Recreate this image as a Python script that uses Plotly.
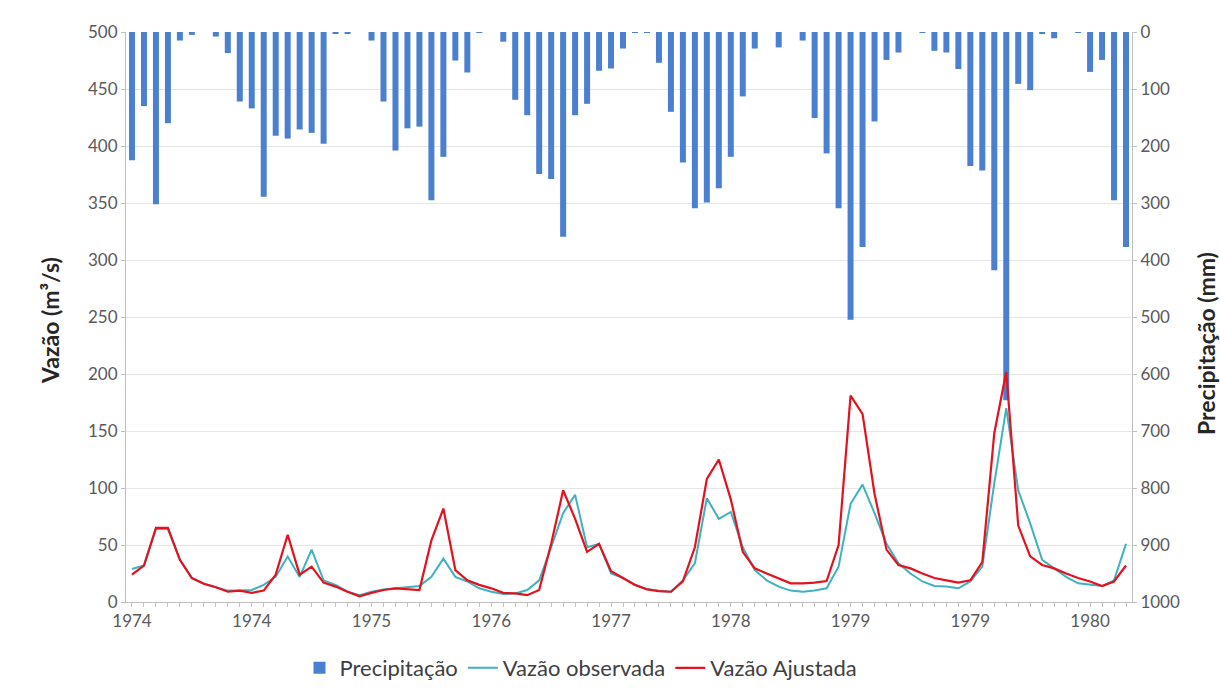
import plotly.graph_objects as go

# Monthly series, Jan 1974 - Dec 1980
meses = [f"{ano}-{m:02d}" for ano in range(1974, 1981) for m in range(1, 13)]

precipitacao = [
    225, 130, 302, 160, 15, 5, 0, 8, 37, 122, 134, 289,
    182, 187, 171, 177, 196, 2, 2, 0, 15, 122, 208, 169,
    166, 295, 219, 50, 71, 1, 0, 17, 119, 146, 249, 258,
    359, 146, 126, 68, 64, 29, 1, 1, 54, 140, 229, 309,
    299, 274, 219, 113, 29, 0, 27, 0, 15, 151, 213, 309,
    505, 377, 157, 49, 36, 0, 1, 33, 36, 65, 235, 243,
    418, 646, 91, 102, 2, 11, 0, 1, 70, 49, 295, 377,
]

vazao_observada = [
    29, 32, 64, 64, 37, 21, 16, 13, 10, 10, 10.5, 15,
    22, 40, 22, 46, 19, 15, 9, 6, 9, 11, 12, 13.5,
    14, 22, 38, 22, 18, 12, 9, 7, 7.5, 10.5, 19, 48,
    78, 94, 48, 51, 25, 21, 15, 11.5, 9.6, 9.1, 19, 34,
    91, 73, 79, 48, 28, 19, 13.5, 10, 9, 10, 12, 31,
    86, 103, 78, 51, 34, 25, 18, 14, 13.5, 12, 18, 31,
    104, 170, 98, 69, 37, 29.5, 22, 16.4, 15, 14, 19, 51,
]

vazao_ajustada = [
    24, 32, 65, 65, 37, 21, 16, 13, 9, 10, 8, 10,
    24, 59, 24, 31, 17, 13.5, 9, 5, 8, 10.5, 12, 11,
    10.5, 54, 82, 28, 19, 15, 12, 8, 7.6, 6, 10.5, 51,
    98, 73, 44, 51, 27, 21, 15, 11, 9.6, 9, 18, 48,
    108, 125, 90, 44, 29.5, 25, 21, 16.4, 16.4, 17, 18.4, 50,
    181, 165, 95, 46, 32.5, 29.5, 25, 21, 19, 17, 19, 35,
    148, 202, 67, 40, 32.5, 29.5, 25, 21, 18, 14, 18, 32,
]

# year labels every 10 months
rotulos_x = [m[:4] if i % 10 == 0 else "" for i, m in enumerate(meses)]

FONT = "Lato"
AXIS_GRAY = "#bfbfbf"
TICK_COLOR = "#595959"
TICK_SIZE = 17

fig = go.Figure()

fig.add_trace(go.Bar(
    x=meses, y=precipitacao, name="Precipitação", yaxis="y",
    marker=dict(color="#4a80cf", line=dict(width=0)), width=0.5,
))
fig.add_trace(go.Scatter(
    x=meses, y=vazao_observada, name="Vazão observada", yaxis="y2",
    mode="lines", line=dict(color="#3fb2bd", width=2),
))
fig.add_trace(go.Scatter(
    x=meses, y=vazao_ajustada, name="Vazão Ajustada", yaxis="y2",
    mode="lines", line=dict(color="#e3121f", width=2.2),
))

W, H = 1220, 698
ML, MR, MT, MB = 126, 88, 32, 96
pw = W - ML - MR
ph = H - MT - MB

fig.update_layout(
    width=W, height=H,
    margin=dict(l=ML, r=MR, t=MT, b=MB, pad=0, autoexpand=False),
    paper_bgcolor="white", plot_bgcolor="white",
    font=dict(family=FONT, size=TICK_SIZE, color=TICK_COLOR),
    showlegend=True,
    legend=dict(
        orientation="h", x=(581 - ML) / pw, xanchor="center",
        y=-(647 - (H - MB)) / ph, yanchor="top",
        font=dict(family=FONT, size=22, color="#404040"),
        itemwidth=30, tracegroupgap=0,
    ),
    xaxis=dict(
        type="category", range=[-0.5, len(meses) - 0.5],
        tickmode="array", tickvals=meses, ticktext=rotulos_x,
        ticks="outside", ticklen=4, tickcolor=AXIS_GRAY,
        showline=True, linecolor=AXIS_GRAY, linewidth=1,
        showgrid=False, tickangle=0,
        tickfont=dict(family=FONT, size=TICK_SIZE, color=TICK_COLOR),
    ),
    yaxis=dict(
        side="right", range=[1000, 0], dtick=100,
        showgrid=True, gridcolor="#e6e6e6", gridwidth=1,
        showline=True, linecolor=AXIS_GRAY, linewidth=1,
        ticks="outside", ticklen=4, tickcolor=AXIS_GRAY,
        zeroline=False,
        tickfont=dict(family=FONT, size=TICK_SIZE, color=TICK_COLOR),
    ),
    yaxis2=dict(
        side="left", overlaying="y", range=[0, 500], dtick=50,
        showgrid=False, zeroline=False,
        showline=True, linecolor=AXIS_GRAY, linewidth=1,
        ticks="outside", ticklen=4, tickcolor=AXIS_GRAY,
        tickfont=dict(family=FONT, size=TICK_SIZE, color=TICK_COLOR),
    ),
    annotations=[
        dict(text="<b>Vazão (m³/s)</b>", textangle=-90,
             xref="paper", yref="paper",
             x=(50 - ML) / pw, y=(H - MB - 321) / ph,
             xanchor="center", yanchor="middle", showarrow=False,
             font=dict(family=FONT, size=23, color="#262626")),
        dict(text="<b>Precipitação (mm)</b>", textangle=-90,
             xref="paper", yref="paper",
             x=(1206 - ML) / pw, y=(H - MB - 344) / ph,
             xanchor="center", yanchor="middle", showarrow=False,
             font=dict(family=FONT, size=23, color="#262626")),
    ],
)

fig.write_html("out.html")
